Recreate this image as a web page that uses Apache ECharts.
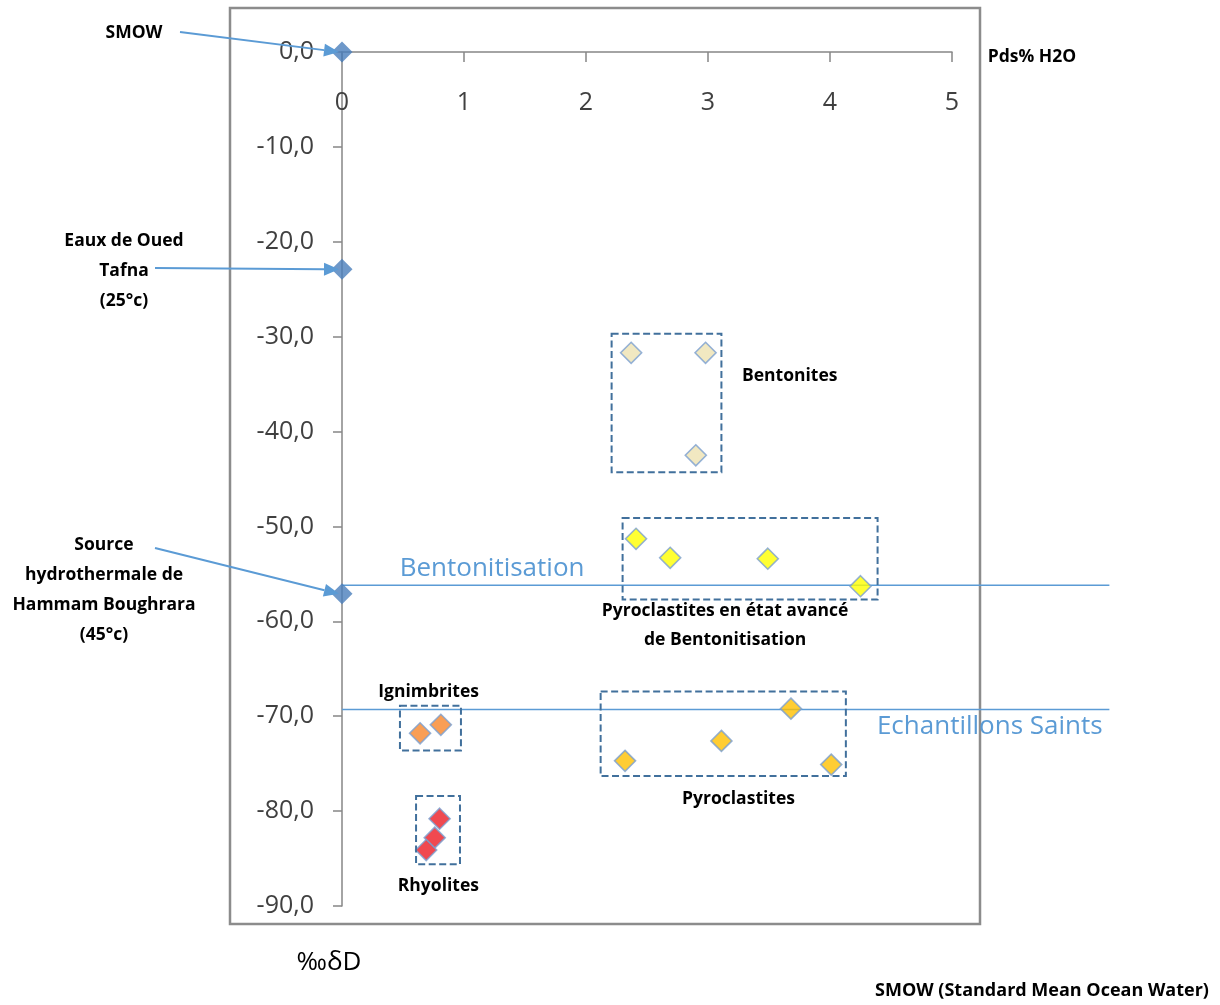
<!DOCTYPE html>
<html>
<head>
<meta charset="utf-8">
<script src="https://cdn.jsdelivr.net/npm/echarts/dist/echarts.min.js"></script>
<style>
  html, body { margin: 0; padding: 0; background: #ffffff; }
  #chart { width: 1220px; height: 1005px; }
</style>
</head>
<body>
<div id="chart"></div>
<script>
// Water content (Pds% H2O) vs deuterium (‰δD)
const xTickValues = [0, 1, 2, 3, 4, 5];
const yTickValues = [0, -10, -20, -30, -40, -50, -60, -70, -80, -90];

// Reference waters: SMOW, Oued Tafna, Hammam Boughrara spring
const referenceWaters = [[0, 0], [0, -22.9], [0, -57.1]];
const bentonites = [[2.37, -31.7], [2.98, -31.7], [2.90, -42.5]];
const pyroAvance = [[2.41, -51.3], [2.69, -53.3], [3.49, -53.4], [4.25, -56.3]];
const pyroclastites = [[2.32, -74.7], [3.11, -72.6], [3.68, -69.2], [4.01, -75.1]];
const ignimbrites = [[0.64, -71.8], [0.81, -70.9]];
const rhyolites = [[0.80, -80.8], [0.76, -82.8], [0.69, -84.1]];

// Horizontal reference levels (‰δD), drawn from x = 0 to x = levelLineEnd
const bentonitisationLevel = -56.2;
const saintsLevel = -69.3;
const levelLineEnd = 6.29;

const chart = echarts.init(document.getElementById('chart'), null, { renderer: 'canvas' });

const tickFont = { fontFamily: 'Open Sans', fontSize: 25, color: '#404040' };
const pointBorder = '#7a9fd0';

function scatter(name, data, color, border) {
  return {
    name: name,
    type: 'scatter',
    data: data,
    symbol: 'diamond',
    symbolSize: 21,
    clip: false,
    z: 5,
    itemStyle: { color: color, borderColor: border, borderWidth: border ? 1.6 : 0 }
  };
}

chart.setOption({
  animation: false,
  backgroundColor: '#ffffff',
  grid: { left: 342, top: 52, right: 268, bottom: 99, containLabel: false, outerBoundsMode: 'none' },
  xAxis: {
    type: 'value',
    min: xTickValues[0],
    max: xTickValues[xTickValues.length - 1],
    interval: 1,
    position: 'top',
    axisLine: { onZero: false, lineStyle: { color: '#868686', width: 1.5 } },
    axisTick: { show: true, inside: true, length: 10, lineStyle: { color: '#868686', width: 1.5 } },
    axisLabel: Object.assign({ inside: true, margin: 38 }, tickFont),
    splitLine: { show: false }
  },
  yAxis: {
    type: 'value',
    min: yTickValues[yTickValues.length - 1],
    max: yTickValues[0],
    interval: 10,
    axisLine: { show: true, onZero: false, lineStyle: { color: '#868686', width: 1.5 } },
    axisTick: { show: true, length: 9, lineStyle: { color: '#868686', width: 1.5 } },
    axisLabel: Object.assign({
      margin: 28,
      formatter: function (v) { return v.toFixed(1).replace('.', ','); }
    }, tickFont),
    splitLine: { show: false }
  },
  series: [
    scatter('Eaux de référence', referenceWaters, '#4a7ebb', null),
    scatter('Bentonites', bentonites, '#eee2b2', pointBorder),
    scatter('Pyroclastites en état avancé de Bentonitisation', pyroAvance, '#ffff00', pointBorder),
    scatter('Pyroclastites', pyroclastites, '#ffc000', pointBorder),
    scatter('Ignimbrites', ignimbrites, '#f7862a', pointBorder),
    scatter('Rhyolites', rhyolites, '#ec1c24', pointBorder)
  ]
});

// ---- annotations ----
const px = (x, y) => chart.convertToPixel({ gridIndex: 0 }, [x, y]);
// linear extension of the x scale beyond the axis max
const unitX = px(1, 0)[0] - px(0, 0)[0];
const boldFont = 'bold 17.5px "Open Sans"';

const groupBoxes = [
  { x: [2.21, 3.11], y: [-29.7, -44.3] },
  { x: [2.30, 4.39], y: [-49.1, -57.7] },
  { x: [2.12, 4.13], y: [-67.4, -76.3] },
  { x: [0.475, 0.975], y: [-68.9, -73.6] },
  { x: [0.607, 0.967], y: [-78.4, -85.6] }
];

const groupLabels = [
  { text: 'Bentonites', at: [3.67, -34.1] },
  { text: 'Pyroclastites en état avancé\nde Bentonitisation', at: [3.14, -60.4] },
  { text: 'Ignimbrites', at: [0.71, -67.4] },
  { text: 'Pyroclastites', at: [3.25, -78.7] },
  { text: 'Rhyolites', at: [0.79, -87.9] }
];

const levels = [
  { text: 'Bentonitisation', y: bentonitisationLevel, at: [1.23, -54.4] },
  { text: 'Echantillons Saints', y: saintsLevel, at: [5.31, -71.1] }
];

// Left-side captions pointing at the reference waters
const waterCaptions = [
  { text: 'SMOW', pos: [134, 33], from: [180, 32], point: 0 },
  { text: 'Eaux de Oued\nTafna\n(25°c)', pos: [124, 271], from: [155, 268], point: 1 },
  { text: 'Source\nhydrothermale de\nHammam Boughrara\n(45°c)', pos: [104, 590], from: [155, 548], point: 2 }
];

function arrow(from, to, color) {
  const dx = to[0] - from[0], dy = to[1] - from[1];
  const len = Math.hypot(dx, dy);
  const ux = dx / len, uy = dy / len;
  const hl = 15, hw = 6.5;
  const bx = to[0] - ux * hl, by = to[1] - uy * hl;
  return [
    { type: 'line', z: 20, shape: { x1: from[0], y1: from[1], x2: bx, y2: by },
      style: { stroke: color, lineWidth: 2 } },
    { type: 'polygon', z: 20,
      shape: { points: [to, [bx - uy * hw, by + ux * hw], [bx + uy * hw, by - ux * hw]] },
      style: { fill: color } }
  ];
}

function text(str, x, y, font, fill, lineHeight) {
  return {
    type: 'text', z: 20, x: x, y: y,
    style: {
      text: str, font: font, fill: fill, lineHeight: lineHeight || 30,
      textAlign: 'center', textVerticalAlign: 'middle', verticalAlign: 'middle', align: 'center'
    }
  };
}

const graphics = [];

// outer chart frame
graphics.push({
  type: 'rect', z: -1, silent: true,
  shape: { x: 230, y: 8, width: 750, height: 916 },
  style: { fill: 'none', stroke: '#8c8c8c', lineWidth: 2.5 }
});

levels.forEach(l => {
  const p0 = px(0, l.y);
  const xEnd = p0[0] + unitX * levelLineEnd;
  graphics.push({
    type: 'line', z: 1, silent: true,
    shape: { x1: p0[0], y1: p0[1], x2: xEnd, y2: p0[1] },
    style: { stroke: '#5b9bd5', lineWidth: 1.5 }
  });
  const p = px(l.at[0], l.at[1]);
  graphics.push(text(l.text, p[0], p[1], '26px "Open Sans"', '#5b9bd5'));
});

groupBoxes.forEach(b => {
  const p1 = px(b.x[0], b.y[0]);
  const p2 = px(b.x[1], b.y[1]);
  graphics.push({
    type: 'rect', z: 15, silent: true,
    shape: { x: p1[0], y: p1[1], width: p2[0] - p1[0], height: p2[1] - p1[1] },
    style: { fill: 'none', stroke: '#41709c', lineWidth: 2, lineDash: [7, 3.5] }
  });
});

groupLabels.forEach(l => {
  const p = px(l.at[0], l.at[1]);
  graphics.push(text(l.text, p[0], p[1], boldFont, '#000000', 29));
});

waterCaptions.forEach(c => {
  graphics.push(text(c.text, c.pos[0], c.pos[1], boldFont, '#000000', 30));
  const target = px(referenceWaters[c.point][0], referenceWaters[c.point][1]);
  arrow(c.from, [target[0] - 3, target[1]], '#5b9bd5').forEach(g => graphics.push(g));
});

graphics.push(text('Pds% H2O', 1032, 57, 'bold 17.5px "Open Sans"', '#000000'));
graphics.push(text('‰δD', 329, 963, '26px "Open Sans"', '#000000'));
graphics.push(text('SMOW (Standard Mean Ocean Water)', 1042, 991, 'bold 18px "Open Sans"', '#000000'));

chart.setOption({ graphic: graphics });
</script>
</body>
</html>
